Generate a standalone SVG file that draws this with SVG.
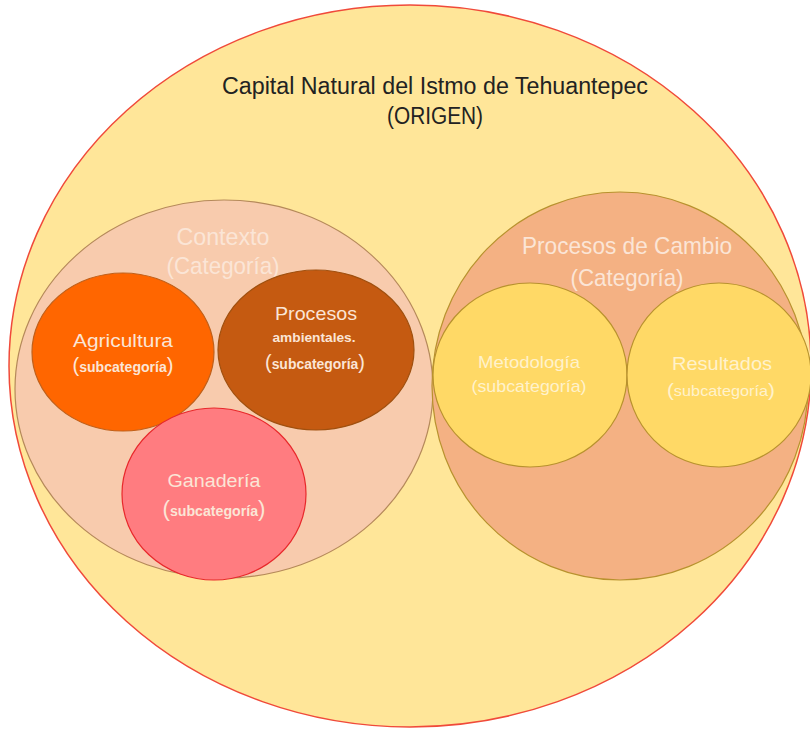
<svg xmlns="http://www.w3.org/2000/svg" width="810" height="729" viewBox="0 0 810 729">
<style>
text{font-family:"Liberation Sans","Open Sans",Arial,sans-serif;text-anchor:middle}
.dark{fill:#222}
.lt{fill:#FBE5D6}
.ly{fill:#FFF2CC}
.big{font-size:24px}
.mid{font-size:19px}
</style>
<rect width="810" height="729" fill="#fff"/>
<g id="origen">
<ellipse cx="410" cy="366" rx="401" ry="361" fill="#FFE699" stroke="#F04A3A" stroke-width="1.5"/>
<text class="dark" x="435" y="94" font-size="23" textLength="426" lengthAdjust="spacingAndGlyphs">Capital Natural del Istmo de Tehuantepec</text>
<text class="dark" x="435" y="124" font-size="23" textLength="96" lengthAdjust="spacingAndGlyphs">(ORIGEN)</text>
</g>
<g id="contexto">
<ellipse cx="224" cy="389" rx="209" ry="189" fill="#F8CBAD" stroke="#B5895A" stroke-width="1.2"/>
<text class="lt big" x="223" y="245" textLength="93" lengthAdjust="spacingAndGlyphs">Contexto</text>
<text class="lt big" x="223" y="274" textLength="113" lengthAdjust="spacingAndGlyphs">(Categoría)</text>
</g>
<g id="cambio">
<ellipse cx="620" cy="386" rx="188" ry="194" fill="#F4B183" stroke="#B8922E" stroke-width="1.2"/>
<text class="lt big" x="627" y="254" textLength="210" lengthAdjust="spacingAndGlyphs">Procesos de Cambio</text>
<text class="lt big" x="627" y="286" textLength="113" lengthAdjust="spacingAndGlyphs">(Categoría)</text>
</g>
<g id="agricultura">
<ellipse cx="123" cy="352" rx="91" ry="79" fill="#FF6600" stroke="#C0601A" stroke-width="1.2"/>
<text class="lt mid" x="123" y="347" textLength="100" lengthAdjust="spacingAndGlyphs">Agricultura</text>
<text class="lt" x="123" y="372" textLength="101" lengthAdjust="spacingAndGlyphs"><tspan font-size="20">(</tspan><tspan font-size="14" font-weight="bold">subcategoría</tspan><tspan font-size="20">)</tspan></text>
</g>
<g id="procesos">
<ellipse cx="316" cy="350" rx="98" ry="80" fill="#C55A11" stroke="#A0500F" stroke-width="1.2"/>
<text class="lt mid" x="316" y="320" textLength="82" lengthAdjust="spacingAndGlyphs">Procesos</text>
<text class="lt" x="314" y="342" font-size="13" font-weight="bold" textLength="83" lengthAdjust="spacingAndGlyphs">ambientales.</text>
<text class="lt" x="315" y="369" textLength="100" lengthAdjust="spacingAndGlyphs"><tspan font-size="20">(</tspan><tspan font-size="14" font-weight="bold">subcategoría</tspan><tspan font-size="20">)</tspan></text>
</g>
<g id="ganaderia">
<ellipse cx="214" cy="494" rx="92" ry="86" fill="#FF7C80" stroke="#E8282B" stroke-width="1.2"/>
<text class="lt mid" x="214" y="487" textLength="93" lengthAdjust="spacingAndGlyphs">Ganadería</text>
<text class="lt" x="214" y="516" textLength="103" lengthAdjust="spacingAndGlyphs"><tspan font-size="22">(</tspan><tspan font-size="14" font-weight="bold">subcategoría</tspan><tspan font-size="22">)</tspan></text>
</g>
<g id="metodologia">
<ellipse cx="530" cy="375" rx="97" ry="92" fill="#FFD966" stroke="#B8922E" stroke-width="1.2"/>
<text class="ly" x="529" y="368" font-size="17" textLength="102" lengthAdjust="spacingAndGlyphs">Metodología</text>
<text class="ly" x="529" y="392" font-size="17" textLength="115" lengthAdjust="spacingAndGlyphs">(subcategoría)</text>
</g>
<g id="resultados">
<ellipse cx="719" cy="375" rx="92" ry="92" fill="#FFD966" stroke="#B8922E" stroke-width="1.2"/>
<text class="ly mid" x="722" y="370" textLength="100" lengthAdjust="spacingAndGlyphs">Resultados</text>
<text class="ly" x="721" y="396" textLength="108" lengthAdjust="spacingAndGlyphs"><tspan font-size="19">(</tspan><tspan font-size="15">subcategoría</tspan><tspan font-size="19">)</tspan></text>
</g>
<g id="connectors"></g>
</svg>
